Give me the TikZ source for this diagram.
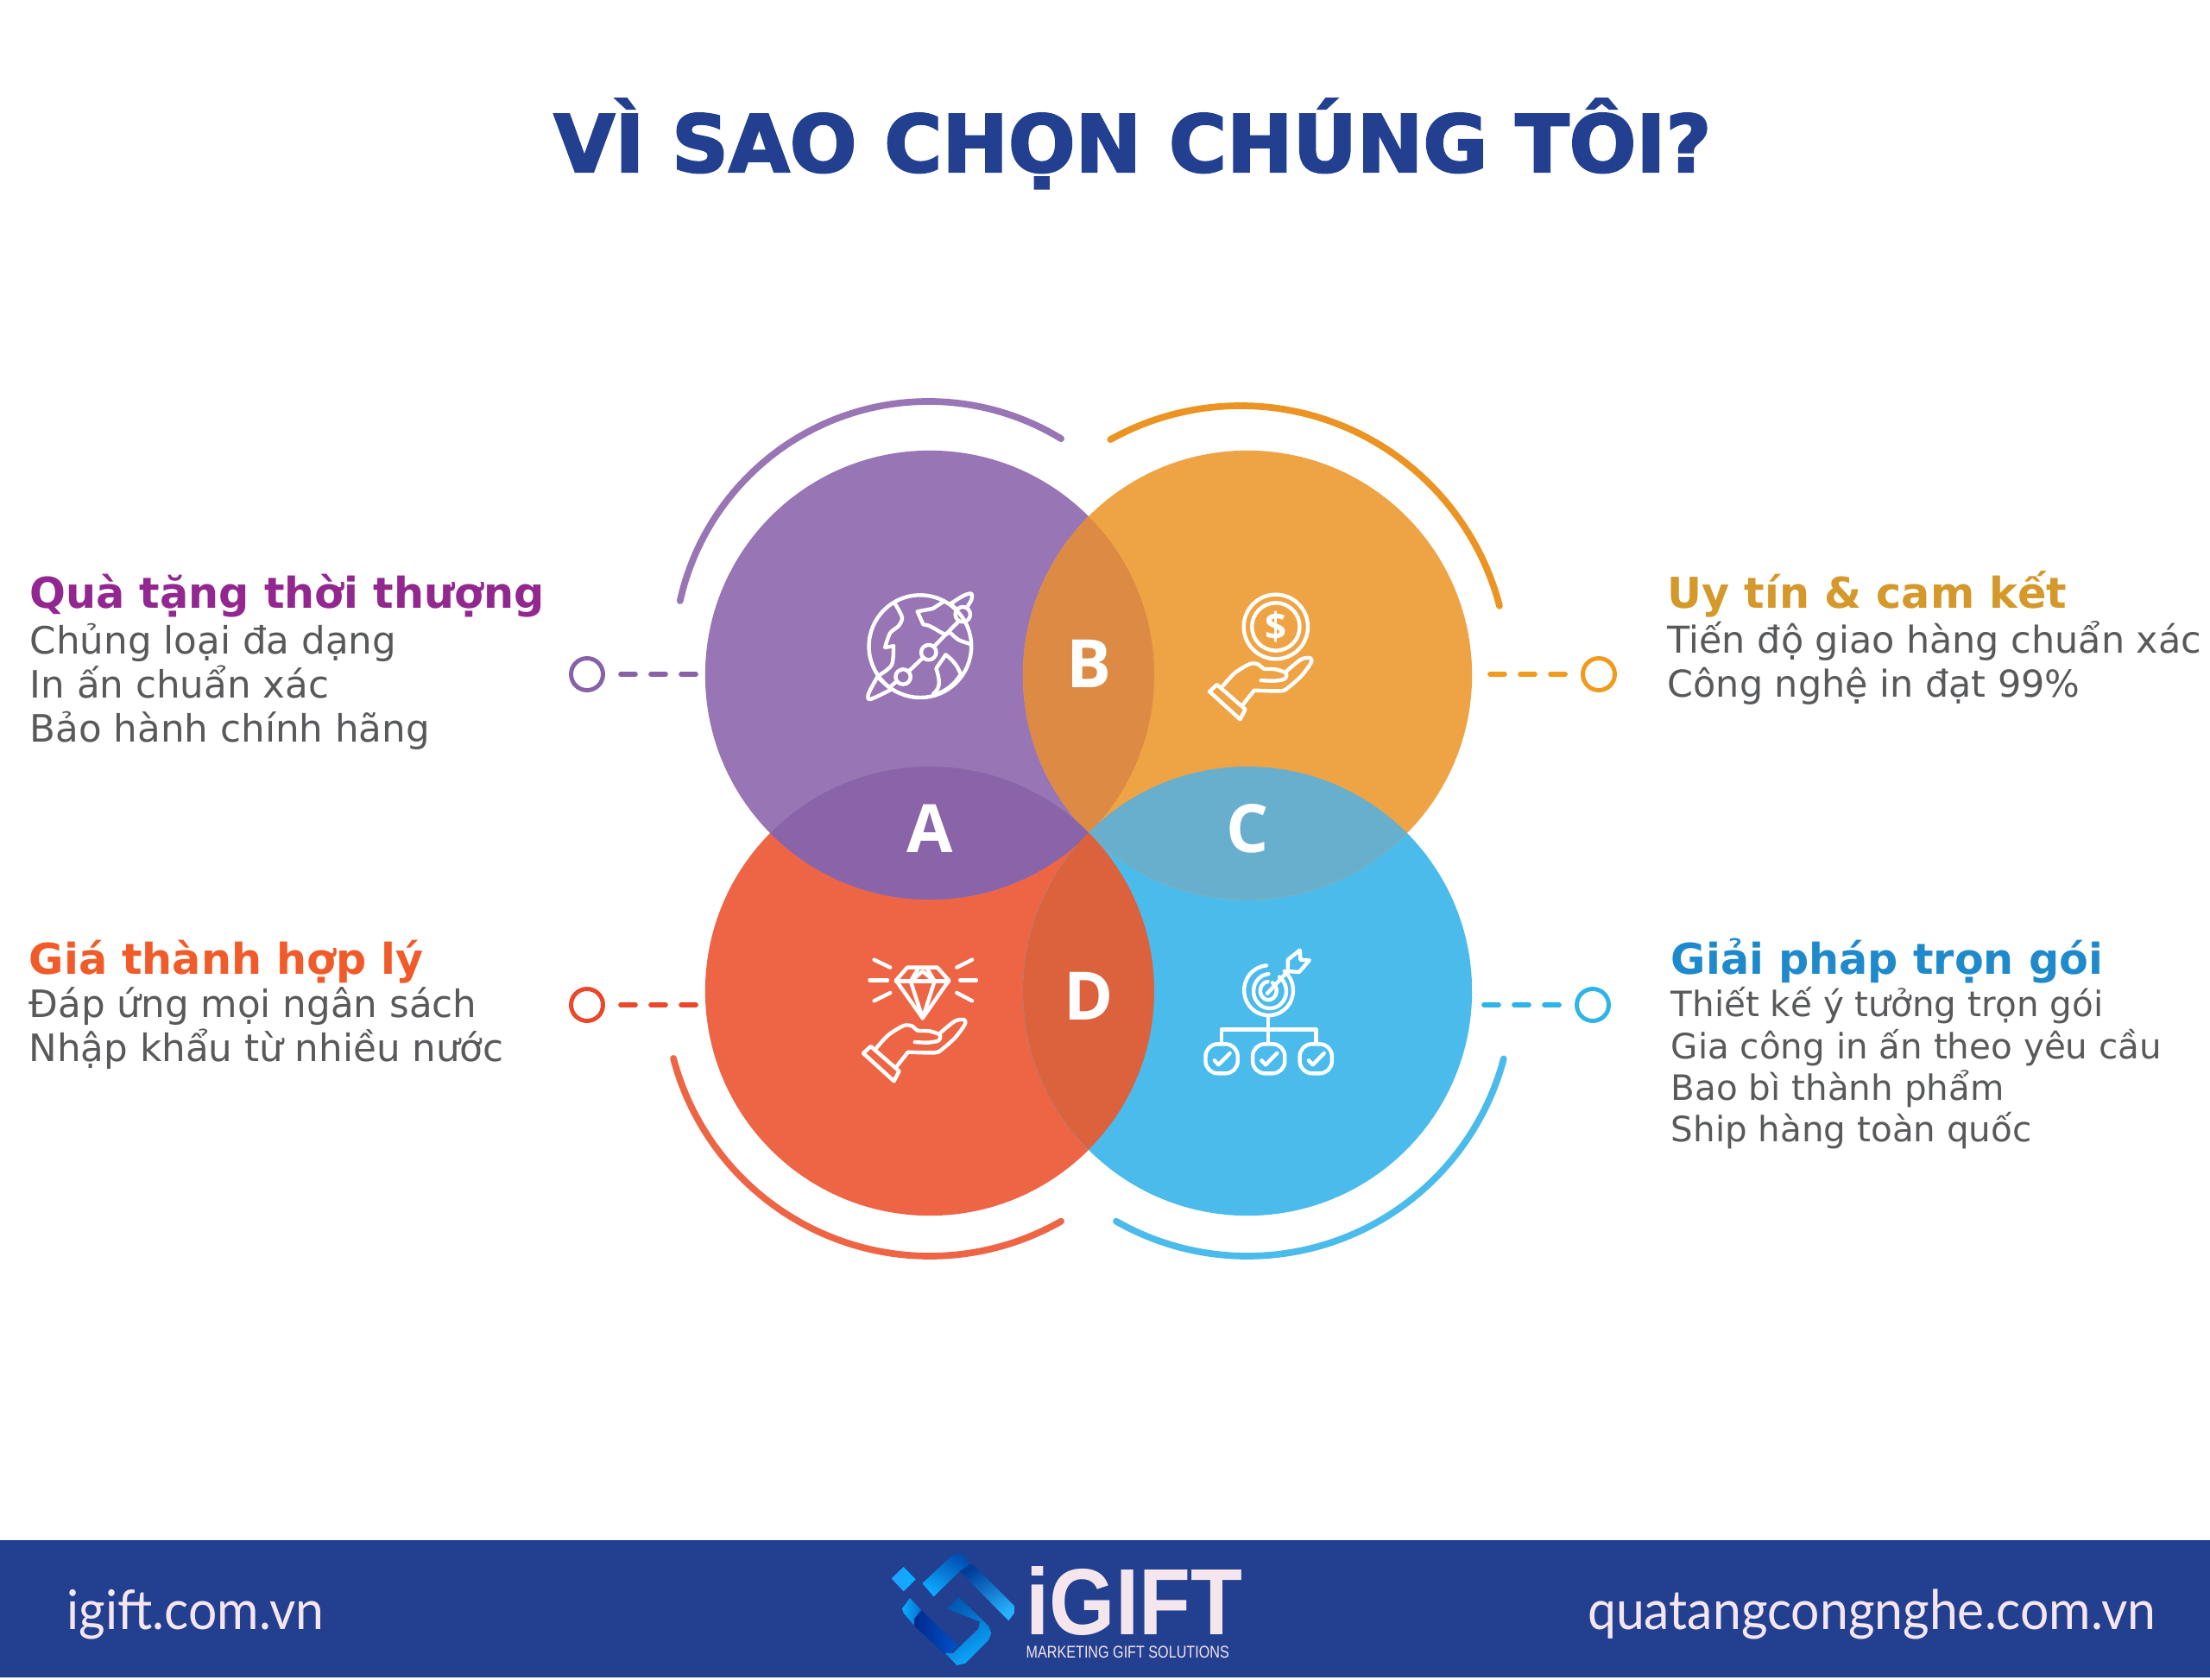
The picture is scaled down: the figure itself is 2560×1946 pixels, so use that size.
\documentclass[tikz,border=0pt]{standalone}
\usepackage{fontspec}
\usepackage{xcolor}
\usetikzlibrary{positioning}
\setmainfont{DejaVu Sans}
\newfontfamily\titlefont[BoldFeatures={FakeBold=2.5}]{DejaVu Sans}
\newfontfamily\lettrefont{Open Sans}
\newfontfamily\webfont[FakeStretch=0.93]{Lato}
\newfontfamily\logofont[FakeStretch=0.9]{Liberation Sans}
\newfontfamily\sloganfont[FakeStretch=0.82]{Liberation Sans}
\definecolor{navy}{HTML}{233F8F}
\definecolor{purplec}{HTML}{9875B4}
\definecolor{orangec}{HTML}{EEA345}
\definecolor{redc}{HTML}{EE6545}
\definecolor{bluec}{HTML}{4BBBEC}
\definecolor{lensab}{HTML}{DC8A44}
\definecolor{lensad}{HTML}{8964A8}
\definecolor{lensbc}{HTML}{68AFCE}
\definecolor{lensdc}{HTML}{DB623D}
\definecolor{grayt}{HTML}{58595B}
\definecolor{pale}{HTML}{F5E6EE}
\definecolor{arcb}{HTML}{EC9423}
\definecolor{ringa}{HTML}{8762A9}
\definecolor{ringb}{HTML}{F09A1E}
\definecolor{ringd}{HTML}{E8492C}
\definecolor{ringc}{HTML}{2FB4E6}
\definecolor{heada}{HTML}{92278F}
\definecolor{headb}{HTML}{D4982B}
\definecolor{headd}{HTML}{F15A29}
\definecolor{headc}{HTML}{1F8ACB}
\tikzset{
  venn/.style={circle,minimum size=5.2cm,inner sep=0pt},
  ring/.style={circle,draw,line width=1.4pt,minimum size=0.37cm,inner sep=0pt},
  dashline/.style={line width=1.6pt,line cap=round,dash pattern=on 0.17cm off 0.18cm,shorten <=0.18cm},
  arcline/.style={line width=2.2pt,line cap=round},
  lettre/.style={text=white,inner sep=0pt,font=\lettrefont\bfseries\fontsize{22}{24}\selectfont},
  head/.style={anchor=base west,inner sep=0pt,font=\bfseries\fontsize{14}{17}\selectfont},
  body/.style={anchor=north west,align=left,inner sep=0pt,text=grayt,font=\fontsize{12.4}{14.5}\selectfont},
  icon/.style={draw=white,line width=1.25pt,line join=round,line cap=round},
  zoomb/.style={shift={(950,640)},xscale=.3954,yscale=.3333},
  zoomd/.style={shift={(960,1080)},xscale=.3954,yscale=.3333},
  zoomf/.style={shift={(980,1770)},xscale=.3333,yscale=.3333},
  hand/.pic={
    \begin{scope}[xscale=.3954,yscale=.3333]
    \draw[icon] (0,0) -- (22,-24) -- (105,62) -- (90,97) -- cycle;
    \draw[icon] plot[smooth,tension=.5] coordinates {(39,-19) (74,-64) (119,-96) (144,-94) (159,-79) (194,-77) (224,-64) (221,-44) (189,-37) (151,-39)};
    \draw[icon] plot[smooth,tension=.5] coordinates {(227,-72) (269,-112) (296,-116) (297,-99) (269,-54) (231,-14) (209,-2) (131,-4)} -- (99,44);
    \end{scope}
  }
}
\begin{document}
\begin{tikzpicture}[x=0.01cm,y=-0.01cm]
\useasboundingbox (0,0) rectangle (2560,1946);
\fill[white] (0,0) rectangle (2560,1946);

\node[anchor=base,inner sep=0pt,text=navy,font=\titlefont\bfseries\fontsize{26}{30}\selectfont] (title) at (1312,199) {VÌ SAO CHỌN CHÚNG TÔI?};

\draw[arcline,purplec] (1075.6,759.8) ++(192.5:294.8) arc[start angle=192.5,end angle=301.4,radius=294.8];
\draw[arcline,arcb] (1437,780) ++(240.9:310) arc[start angle=240.9,end angle=345.4,radius=310];
\draw[arcline,redc] (1077,1148) ++(165.3:307) arc[start angle=165.3,end angle=60.3,radius=307];
\draw[arcline,bluec] (1445,1148) ++(119.7:307) arc[start angle=119.7,end angle=14.8,radius=307];

\node[venn,fill=redc] (d) at (1077,1148) {};
\node[venn,fill=bluec] (c) at (1445,1148) {};
\node[venn,fill=purplec] (a) at (1077,782) {};
\node[venn,fill=orangec] (b) at (1445,782) {};
\begin{scope}
\clip (1077,782) circle[radius=260];
\fill[lensab] (1445,782) circle[radius=260];
\end{scope}
\begin{scope}
\clip (1077,782) circle[radius=260];
\fill[lensad] (1077,1148) circle[radius=260];
\end{scope}
\begin{scope}
\clip (1445,782) circle[radius=260];
\fill[lensbc] (1445,1148) circle[radius=260];
\end{scope}
\begin{scope}
\clip (1077,1148) circle[radius=260];
\fill[lensdc] (1445,1148) circle[radius=260];
\end{scope}

\node[lettre] (la) at (1077,960) {A};
\node[lettre] (lb) at (1261,769) {B};
\node[lettre] (lc) at (1445,960) {C};
\node[lettre] (ld) at (1261,1154) {D};

\node[ring,draw=ringa] (ra) at (680,781) {};
\node[ring,draw=ringb] (rb) at (1852,781) {};
\node[ring,draw=ringd] (rd) at (680,1164) {};
\node[ring,draw=ringc] (rc) at (1845,1164) {};
\coordinate (ea) at (812,781);
\coordinate (eb) at (1723,781);
\coordinate (ed) at (812,1164);
\coordinate (ec) at (1714,1164);
\draw[dashline,ringa] (ra) -- (ea);
\draw[dashline,ringb] (rb) -- (eb);
\draw[dashline,ringd] (rd) -- (ed);
\draw[dashline,ringc] (rc) -- (ec);

\begin{scope}[zoomb]
\draw[icon] (293,326) circle[x radius=150,y radius=178];
\draw[icon] (418,215) circle[x radius=22,y radius=26];
\draw[icon] (318,347) circle[x radius=22,y radius=26];
\draw[icon] (243,432) circle[x radius=22,y radius=26];
\draw[icon] (335,325) -- (405,240);
\draw[icon] (262,410) -- (300,367);
\draw[icon] (222,450) -- (205,467);
\draw[icon] plot[smooth,tension=.5] coordinates {(382,178) (420,150) (443,143) (443,165) (430,190)};
\draw[icon] (385,180) -- (398,197);
\draw[icon] plot[smooth,tension=.5] coordinates {(168,432) (142,490) (147,510) (205,478)};
\draw[icon] (170,435) -- (205,472);
\draw[icon] plot[smooth,tension=.5] coordinates {(360,172) (330,195)} -- (285,205) -- (302,250) to[out=0,in=-110] (378,275);
\draw[icon] plot[smooth,tension=.5] coordinates {(378,275) (405,303) (440,318)};
\draw[icon] plot[smooth,tension=.5] coordinates {(218,175) (240,225) (230,255) (205,280) (190,330)} -- (215,325);
\draw[icon] plot[smooth,tension=.5] coordinates {(215,325) (210,390) (175,425)};
\draw[icon] (332,490) .. controls (355,470) and (350,440) .. (340,403) -- (368,355) .. controls (395,380) and (405,400) .. (412,425);
\draw[icon] (345,490) .. controls (370,480) and (395,455) .. (408,430);
\draw[icon] (1335,258) circle[x radius=94,y radius=112];
\draw[icon] (1335,258) circle[x radius=70,y radius=83];
\end{scope}
\node[text=white,inner sep=0pt,font=\lettrefont\bfseries\fontsize{12.5}{14}\selectfont] (dollar) at (1478,726) {\$};
\pic at (1401,801) {hand};
\pic at (1000,1220) {hand};

\begin{scope}[zoomd]
\draw[icon] (230,122) -- (318,122) -- (352,167) -- (275,298) -- (197,167) -- cycle;
\draw[icon] (197,170) -- (352,170);
\draw[icon] (262,125) -- (240,170) -- (275,298) -- (310,170) -- (288,125);
\draw[icon] (240,170) -- (275,135) -- (310,170);
\draw[icon] (133,95) -- (180,122);
\draw[icon] (120,166) -- (172,166);
\draw[icon] (133,238) -- (180,210);
\draw[icon] (420,95) -- (375,122);
\draw[icon] (432,166) -- (385,166);
\draw[icon] (420,238) -- (375,210);
\draw[icon] (1335,135) arc[start angle=-50,end angle=265,x radius=72,y radius=87];
\draw[icon] (1320,155) arc[start angle=-55,end angle=265,x radius=48,y radius=60];
\draw[icon] (1300,175) arc[start angle=-60,end angle=265,x radius=24,y radius=32];
\draw[icon] (1285,212) -- (1345,135);
\draw[icon] (1345,135) -- (1345,95) -- (1380,62) -- (1382,95) -- (1408,97) -- (1378,138) -- cycle;
\draw[icon] (1288,298) -- (1288,385);
\draw[icon] (1150,385) -- (1150,338) -- (1428,338) -- (1428,385);
\draw[icon,rounded corners=4pt] (1104,388) rectangle (1198,490);
\draw[icon,rounded corners=4pt] (1242,388) rectangle (1336,490);
\draw[icon,rounded corners=4pt] (1380,388) rectangle (1474,490);
\draw[icon] (1130,445) -- (1142,460) -- (1175,420);
\draw[icon] (1268,445) -- (1280,460) -- (1313,420);
\draw[icon] (1406,445) -- (1418,460) -- (1451,420);
\end{scope}

\node[head,text=heada] (h1) at (34,705) {Quà tặng thời thượng};
\node[body] (t1) at (34,721) {Chủng loại đa dạng\\In ấn chuẩn xác\\Bảo hành chính hãng};
\node[head,text=headb] (h2) at (1931,705) {Uy tín \& cam kết};
\node[body,font=\fontsize{12.2}{14.5}\selectfont] (t2) at (1931,719) {Tiến độ giao hàng chuẩn xác\\Công nghệ in đạt 99\%};
\node[head,text=headd] (h3) at (33,1128) {Giá thành hợp lý};
\node[body] (t3) at (33,1143) {Đáp ứng mọi ngân sách\\Nhập khẩu từ nhiều nước};
\node[head,text=headc] (h4) at (1935,1128) {Giải pháp trọn gói};
\node[body,font=\fontsize{11.5}{13.75}\selectfont] (t4) at (1935,1143) {Thiết kế ý tưởng trọn gói\\Gia công in ấn theo yêu cầu\\Bao bì thành phẩm\\Ship hàng toàn quốc};

\fill[navy] (0,1784) rectangle (2560,1943);
\node[anchor=base west,inner sep=0pt,text=pale,font=\webfont\fontsize{18}{20}\selectfont] (web1) at (77,1887) {igift.com.vn};
\node[anchor=base east,inner sep=0pt,text=pale,font=\webfont\fontsize{18}{20}\selectfont] (web2) at (2498,1887) {quatangcongnghe.com.vn};
\node[anchor=base west,inner sep=0pt,text=pale,font=\logofont\bfseries\fontsize{31}{34}\selectfont] (logo) at (1188,1893) {iGIFT};
\node[anchor=base west,inner sep=0pt,text=pale,font=\sloganfont\fontsize{5.6}{7}\selectfont] (slogan) at (1188,1920) {MARKETING GIFT SOLUTIONS};

\begin{scope}[zoomf]
\shade[left color=cyan!55!blue!85!white,right color=cyan!70!blue] (158,175) -- (200,135) -- (242,178) -- (200,220) -- cycle;
\shade[left color=blue!55!cyan!70!black,right color=cyan!65!blue!95!white,shading angle=-30] (265,192) -- (375,90) -- (410,92) -- (430,125) -- (395,150) -- (305,238) -- cycle;
\shade[left color=blue!60!cyan!60!black,right color=cyan!65!blue!85!white,shading angle=30] (395,150) -- (430,125) -- (445,130) -- (585,270) -- (585,295) -- (565,322) -- cycle;
\shade[left color=cyan!65!blue!95!white,right color=cyan!55!blue!80!black] (195,280) -- (222,243) -- (262,285) -- (238,315) -- (238,340) -- (200,295) -- cycle;
\shade[left color=blue!70!cyan!55!black,right color=blue!60!cyan!80!black] (238,315) -- (262,285) -- (390,410) -- (360,435) -- (340,435) -- (238,340) -- cycle;
\shade[left color=blue!50!cyan!70!black,right color=cyan!65!blue!95!white,shading angle=30] (350,280) -- (392,240) -- (495,340) -- (505,365) -- (495,390) -- (415,470) -- (385,477) -- (345,435) -- (372,435) -- (460,350) -- (465,325) -- cycle;
\end{scope}

\end{tikzpicture}
\end{document}
